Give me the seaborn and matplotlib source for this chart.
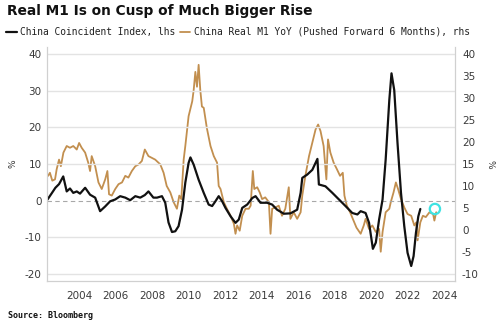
import matplotlib
matplotlib.use("Agg")
import matplotlib.pyplot as plt
import seaborn as sns
import pandas as pd

# ---- data ----
ci_years = [2002.27, 2002.5, 2002.7, 2002.9, 2003.13, 2003.32, 2003.5, 2003.68, 2003.87, 2004.05,
            2004.33, 2004.6, 2004.88, 2005.15, 2005.43, 2005.7, 2005.98, 2006.25, 2006.53, 2006.8,
            2007.08, 2007.35, 2007.6, 2007.8, 2008.07, 2008.27, 2008.54, 2008.72, 2008.9, 2009.09,
            2009.27, 2009.45, 2009.64, 2009.82, 2010.0, 2010.1, 2010.28, 2010.55, 2010.83, 2011.1,
            2011.29, 2011.47, 2011.65, 2011.84, 2012.02, 2012.3, 2012.57, 2012.75, 2012.94, 2013.21,
            2013.49, 2013.67, 2013.94, 2014.3, 2014.58, 2014.85, 2015.22, 2015.58, 2015.95, 2016.14,
            2016.23, 2016.5, 2016.78, 2017.06, 2017.14, 2017.5, 2017.88, 2018.24, 2018.6, 2018.97,
            2019.25, 2019.43, 2019.7, 2019.89, 2020.1, 2020.26, 2020.44, 2020.63, 2020.8, 2021.0,
            2021.12, 2021.27, 2021.45, 2021.64, 2021.82, 2022.0, 2022.2, 2022.33, 2022.46, 2022.59,
            2022.7]
ci_values = [0.3, 2.0, 3.5, 4.5, 6.6, 2.5, 3.3, 2.1, 2.5, 1.9,
             3.5, 1.6, 0.8, -2.9, -1.6, -0.2, 0.3, 1.2, 0.8, 0.1,
             1.2, 0.8, 1.5, 2.5, 0.8, 0.8, 1.2, -0.6, -6.0, -8.6,
             -8.4, -7.0, -2.5, 4.9, 10.3, 11.8, 9.8, 5.7, 2.1, -1.1,
             -1.5, -0.2, 1.2, -0.2, -2.0, -4.3, -6.1, -5.2, -2.0, -1.1,
             0.7, 1.2, -0.6, -0.6, -1.1, -2.5, -3.6, -3.5, -2.5, 2.1,
             6.2, 7.1, 8.4, 11.4, 4.4, 3.9, 2.1, 0.3, -1.5, -3.4,
             -3.8, -2.9, -3.4, -6.1, -13.2, -11.5, -5.2, 0.3, 11.2, 27.5,
             34.8, 30.2, 15.7, 2.1, -7.0, -14.3, -17.9, -15.2, -8.8, -4.3,
             -2.3]

m1_years = [2002.3, 2002.4, 2002.53, 2002.68, 2002.77, 2002.9, 2003.0, 2003.14, 2003.32, 2003.5,
            2003.68, 2003.87, 2004.0, 2004.14, 2004.33, 2004.5, 2004.6, 2004.69, 2004.88, 2005.06,
            2005.24, 2005.43, 2005.55, 2005.64, 2005.79, 2005.98, 2006.16, 2006.35, 2006.53, 2006.7,
            2006.89, 2007.08, 2007.26, 2007.44, 2007.6, 2007.8, 2007.98, 2008.17, 2008.45, 2008.63,
            2008.8, 2009.0, 2009.18, 2009.36, 2009.49, 2009.6, 2009.73, 2009.82, 2009.9, 2010.0,
            2010.2, 2010.28, 2010.37, 2010.46, 2010.55, 2010.64, 2010.73, 2010.83, 2011.0, 2011.2,
            2011.38, 2011.56, 2011.65, 2011.75, 2011.93, 2012.1, 2012.3, 2012.48, 2012.57, 2012.66,
            2012.8, 2012.94, 2013.12, 2013.3, 2013.4, 2013.52, 2013.6, 2013.76, 2013.9, 2014.03,
            2014.2, 2014.4, 2014.49, 2014.58, 2014.76, 2014.94, 2015.12, 2015.3, 2015.49, 2015.58,
            2015.76, 2015.95, 2016.14, 2016.23, 2016.4, 2016.6, 2016.78, 2016.96, 2017.1, 2017.23,
            2017.4, 2017.55, 2017.64, 2017.77, 2017.95, 2018.13, 2018.3, 2018.45, 2018.54, 2018.67,
            2018.85, 2019.0, 2019.2, 2019.43, 2019.6, 2019.7, 2019.89, 2020.07, 2020.26, 2020.44,
            2020.53, 2020.63, 2020.8, 2021.0, 2021.08, 2021.23, 2021.36, 2021.48, 2021.64, 2021.82,
            2022.0, 2022.2, 2022.37, 2022.48, 2022.55, 2022.7, 2022.84, 2023.0, 2023.2, 2023.4,
            2023.47, 2023.57]
m1_values = [12.3, 13.0, 11.2, 11.5, 13.8, 16.0, 14.5, 17.6, 19.1, 18.7,
             19.1, 18.3, 19.8, 18.7, 17.6, 15.3, 13.4, 16.8, 14.5, 10.8,
             9.3, 11.5, 13.4, 8.1, 7.8, 9.3, 10.4, 10.8, 12.3, 11.9,
             13.4, 14.5, 14.9, 15.7, 18.3, 16.8, 16.4, 16.0, 14.9, 13.0,
             10.0, 8.5, 6.3, 4.8, 7.8, 7.0, 16.0, 19.1, 22.1, 25.9,
             29.3, 31.9, 36.0, 32.6, 37.6, 31.9, 28.1, 27.8, 23.2, 19.1,
             16.8, 15.3, 10.0, 9.3, 6.3, 4.8, 3.2, 1.4, -0.9, 1.0,
             -0.2, 3.2, 4.8, 4.8, 5.5, 13.4, 9.3, 9.7, 8.5, 7.0,
             7.4, 6.3, -0.9, 4.8, 5.1, 5.5, 3.2, 4.8, 9.7, 2.5,
             4.0, 2.5, 4.0, 7.8, 12.3, 16.8, 19.8, 22.9, 24.0, 22.5,
             19.1, 11.5, 20.6, 17.6, 15.3, 13.8, 12.3, 13.0, 7.8, 5.5,
             4.0, 2.5, 0.5, -0.9, 1.0, 2.5, 0.2, 1.0, -0.5, 0.2,
             -5.0, -0.5, 4.0, 4.8, 6.3, 8.5, 10.8, 9.3, 7.0, 5.1,
             3.6, 3.2, 1.0, 1.7, -2.4, 1.7, 3.2, 2.9, 4.0, 3.6,
             2.1, 4.0]

highlight_year = [2023.5]
highlight_value = [4.75]

left_ticks = [-20, -10, 0, 10, 20, 30, 40]
right_ticks = [-10, -5, 0, 5, 10, 15, 20, 25, 30, 35, 40]
x_ticks = [2004, 2006, 2008, 2010, 2012, 2014, 2016, 2018, 2020, 2022, 2024]

ci_label = "China Coincident Index, lhs"
m1_label = "China Real M1 YoY (Pushed Forward 6 Months), rhs"

# ---- plotting ----
sns.set_style("white")
plt.rcParams["font.family"] = ["DejaVu Sans"]
plt.rcParams["axes.unicode_minus"] = False

BLACK = "#111111"
TAN = "#c28f4f"
GRID = "#e3e3e3"
SPINE = "#d0d0d0"
TXT = "#3a3a3a"

fig = plt.figure(figsize=(5, 3.25), dpi=100)
ax = fig.add_axes([47 / 500, 1 - 281 / 325, (455 - 47) / 500, (281 - 47) / 325])
ax2 = ax.twinx()

ci_df = pd.DataFrame({"year": ci_years, "value": ci_values})
m1_df = pd.DataFrame({"year": m1_years, "value": m1_values})

ax.set_zorder(ax2.get_zorder() + 1)
ax.patch.set_visible(False)

sns.lineplot(data=m1_df, x="year", y="value", ax=ax2, color=TAN, lw=1.3,
             sort=False, estimator=None, label=m1_label, legend=False)
sns.lineplot(data=ci_df, x="year", y="value", ax=ax, color=BLACK, lw=1.6,
             sort=False, estimator=None, label=ci_label, legend=False)
ax2.scatter(highlight_year, highlight_value, s=55, facecolors="none",
            edgecolors="#3fe3e3", linewidths=1.6, zorder=5)

ax.set_xlim(2002.24, 2024.6)
ax.set_ylim(-22, 42)
ax2.set_ylim(-10 - 2 * 5 / 6, 40 + 2 * 5 / 6)

for t in left_ticks:
    if t == 0:
        ax.axhline(0, color="#a8a8a8", lw=0.8, ls=(0, (4, 3)), zorder=0)
    else:
        ax.axhline(t, color=GRID, lw=1.0, zorder=0)

ax.set_yticks(left_ticks)
ax2.set_yticks(right_ticks)
ax.set_xticks(x_ticks)
ax.set_xticklabels([str(x) for x in x_ticks])

ax.tick_params(axis="y", length=0, pad=4, labelsize=7.5, labelcolor=TXT)
ax2.tick_params(axis="y", length=0, pad=5, labelsize=7.5, labelcolor=TXT)
ax.tick_params(axis="x", direction="in", length=3, width=0.8, color=SPINE,
               pad=7, labelsize=7.5, labelcolor=TXT)

for a in (ax, ax2):
    a.set_xlabel("")
    a.spines["top"].set_visible(False)
    for s in ("left", "right", "bottom"):
        a.spines[s].set_color(SPINE)
        a.spines[s].set_linewidth(0.8)
    a.grid(False)

ax.set_ylabel("%", fontsize=6.5, color=TXT, rotation=90, va="center", ha="center")
ax.yaxis.set_label_coords((13 - 47) / 408, 0.5)
ax2.set_ylabel("%", fontsize=6.5, color=TXT, rotation=270, va="center", ha="center")
ax2.yaxis.set_label_coords((490 - 47) / 408, 0.5)

fig.text(7 / 500, 1 - 4 / 325, "Real M1 Is on Cusp of Much Bigger Rise",
         fontsize=9.9, fontweight="bold", color="#111111", va="top", ha="left")

h1, l1 = ax.get_legend_handles_labels()
h2, l2 = ax2.get_legend_handles_labels()
fig.legend(h1 + h2, l1 + l2, loc="center left", bbox_to_anchor=(6 / 500, 1 - 32 / 325),
           ncol=2, frameon=False, borderpad=0, borderaxespad=0, handlelength=1.1,
           handletextpad=0.4, columnspacing=0.4,
           prop={"family": "DejaVu Sans Mono", "size": 6.95})
for txt in fig.legends[0].get_texts():
    txt.set_color("#222222")

fig.text(8 / 500, 1 - 315 / 325, "Source: Bloomberg", fontsize=6,
         family="DejaVu Sans Mono", fontweight="bold", color="#111111", va="center")

fig.savefig("out.png", dpi=100)
